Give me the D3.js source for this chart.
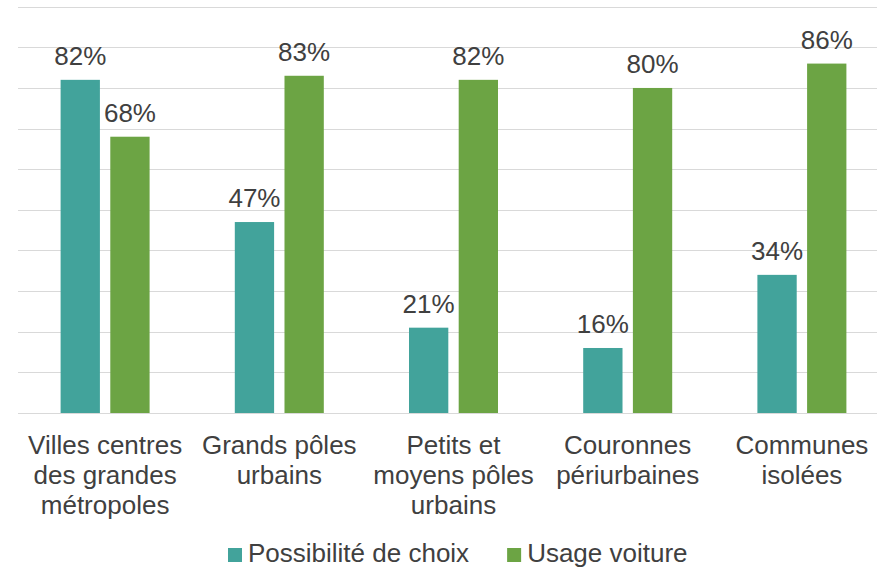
<!DOCTYPE html>
<html>
<head>
<meta charset="utf-8">
<script src="https://cdn.jsdelivr.net/npm/d3@7"></script>
<style>
  body { margin: 0; background: #fff; }
  svg { display: block; font-family: "Liberation Sans", Arial, sans-serif; }
</style>
</head>
<body>
<div id="chart"></div>
<script>
// data
var categories = [
  ["Villes centres", "des grandes", "métropoles"],
  ["Grands pôles", "urbains"],
  ["Petits et", "moyens pôles", "urbains"],
  ["Couronnes", "périurbaines"],
  ["Communes", "isolées"]
];
var seriesNames = ["Possibilité de choix", "Usage voiture"];
var choix = [82, 47, 21, 16, 34];
var voiture = [68, 83, 82, 80, 86];
var yTicks = [0, 10, 20, 30, 40, 50, 60, 70, 80, 90, 100];
var colors = ["#42a39b", "#6ca444"];

var width = 877, height = 567;
var textColor = "#404040";

var svg = d3.select("#chart")
  .append("svg")
    .attr("width", width)
    .attr("height", height);

var catKeys = categories.map(function(c, i) { return i; });

// x scales: groups, then bars inside each group
var x0 = d3.scaleBand()
  .domain(catKeys)
  .range([18, 889]);

var x1 = d3.scaleBand()
  .domain(seriesNames)
  .range([(x0.bandwidth() - 89) / 2, (x0.bandwidth() + 89) / 2])
  .paddingInner(0.209);

var y = d3.scaleLinear()
  .domain([0, 100])
  .range([413, 6.7]);

// gridlines
svg.append("g")
  .selectAll("line")
  .data(yTicks)
  .enter()
  .append("line")
    .attr("x1", 18)
    .attr("x2", width)
    .attr("y1", function(d) { return Math.round(y(d)) + 0.5; })
    .attr("y2", function(d) { return Math.round(y(d)) + 0.5; })
    .attr("stroke", "#d9d9d9")
    .attr("stroke-width", 1);

var rows = catKeys.map(function(i) {
  return [
    {cat: i, key: seriesNames[0], value: choix[i], color: colors[0]},
    {cat: i, key: seriesNames[1], value: voiture[i], color: colors[1]}
  ];
});

var groups = svg.append("g")
  .selectAll("g")
  .data(rows)
  .enter()
  .append("g")
    .attr("transform", function(d, i) { return "translate(" + x0(i) + ",0)"; });

groups.selectAll("rect")
  .data(function(d) { return d; })
  .enter()
  .append("rect")
    .attr("x", function(d) { return x1(d.key); })
    .attr("width", x1.bandwidth())
    .attr("y", function(d) { return y(d.value); })
    .attr("height", function(d) { return y(0) - y(d.value); })
    .style("fill", function(d) { return d.color; });

// value labels
groups.selectAll("text.val")
  .data(function(d) { return d; })
  .enter()
  .append("text")
    .attr("class", "val")
    .attr("x", function(d) { return x1(d.key) + x1.bandwidth() / 2; })
    .attr("y", function(d) { return y(d.value) - 15; })
    .attr("text-anchor", "middle")
    .style("font-size", "26px")
    .style("fill", textColor)
    .text(function(d) { return d.value + "%"; });

// category labels
var catLabels = svg.append("g")
  .selectAll("text")
  .data(categories)
  .enter()
  .append("text")
    .attr("text-anchor", "middle")
    .attr("x", function(d, i) { return x0(i) + x0.bandwidth() / 2; })
    .attr("y", 454)
    .style("font-size", "26px")
    .style("fill", textColor);

catLabels.selectAll("tspan")
  .data(function(d) { return d; })
  .enter()
  .append("tspan")
    .attr("x", function() { return this.parentNode.getAttribute("x"); })
    .attr("dy", function(d, i) { return i === 0 ? 0 : 30; })
    .text(function(d) { return d; });

// legend
var legend = svg.append("g");
var lx = 228;
seriesNames.forEach(function(name, i) {
  legend.append("rect")
    .attr("x", lx)
    .attr("y", 548)
    .attr("width", 14)
    .attr("height", 14)
    .style("fill", colors[i]);
  var t = legend.append("text")
    .attr("x", lx + 20)
    .attr("y", 562)
    .style("font-size", "26px")
    .style("fill", textColor)
    .text(name);
  lx = lx + 20 + t.node().getComputedTextLength() + 38;
});
</script>
</body>
</html>
